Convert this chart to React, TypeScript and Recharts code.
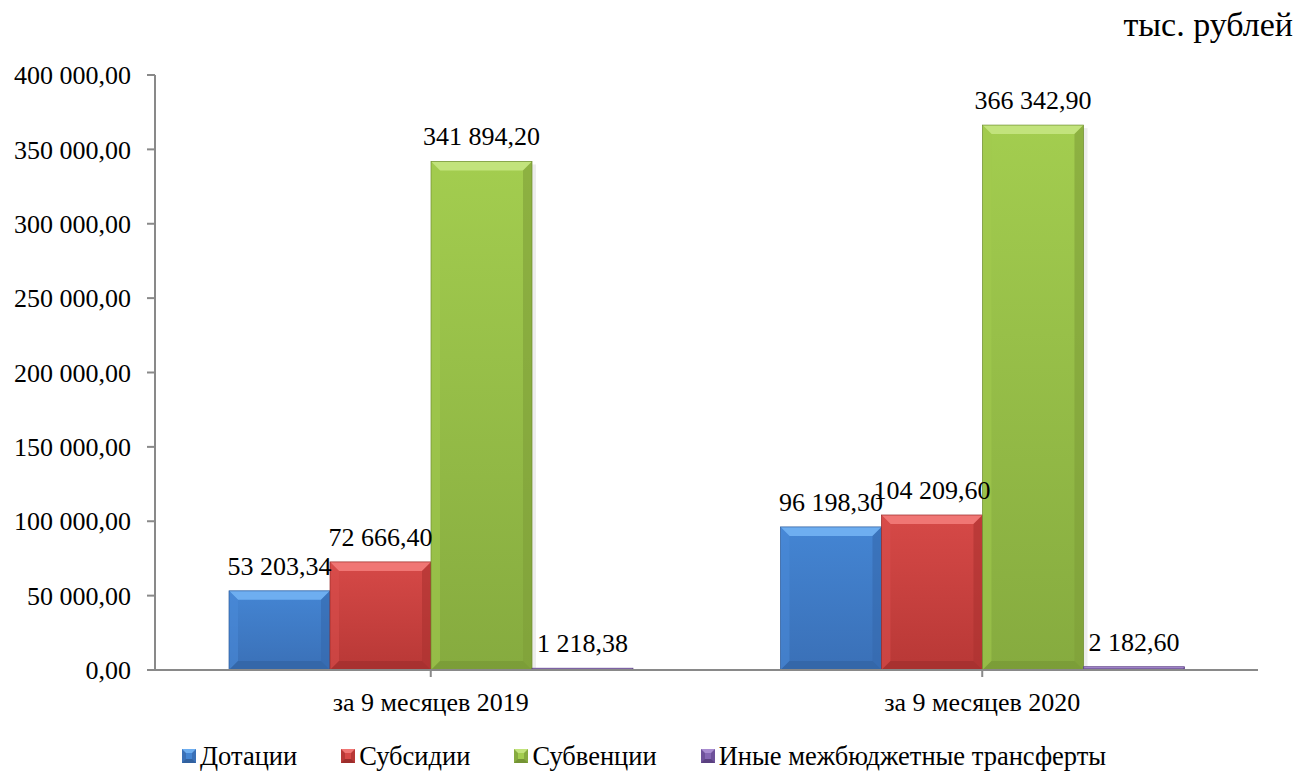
import React from "react";
import { Bar, BarChart, LabelList, Legend, XAxis, YAxis } from "recharts";

const categories = ["за 9 месяцев 2019", "за 9 месяцев 2020"];
const dotacii = [53203.34, 96198.3];
const subsidii = [72666.4, 104209.6];
const subvencii = [341894.2, 366342.9];
const inye = [1218.38, 2182.6];
const yTicks = [0, 50000, 100000, 150000, 200000, 250000, 300000, 350000, 400000];
const seriesNames = ["Дотации", "Субсидии", "Субвенции", "Иные межбюджетные трансферты"];

const data = categories.map((name, i) => ({
  name,
  dot: dotacii[i],
  sub: subsidii[i],
  sbv: subvencii[i],
  other: inye[i],
}));

type Pal = {
  id: string;
  base: string;
  top: string;
  left: string;
  body1: string;
  body2: string;
  right: string;
  bottom: string;
  stroke: string;
};

const blue: Pal = {
  id: "blue", base: "#4180CE", top: "#6EAEF0", left: "#4A8BD9", body1: "#4485D3",
  body2: "#3A70B7", right: "#3669AD", bottom: "#31619F", stroke: "#2E5C9A",
};
const red: Pal = {
  id: "red", base: "#CC4240", top: "#F07674", left: "#D84F4D", body1: "#D64947",
  body2: "#B83836", right: "#AB3230", bottom: "#9C2D2B", stroke: "#992B29",
};
const green: Pal = {
  id: "green", base: "#8DB242", top: "#C2E37C", left: "#A2CB4E", body1: "#A3CD4F",
  body2: "#86AB3F", right: "#7E9F39", bottom: "#749434", stroke: "#6F8E32",
};
const purple: Pal = {
  id: "purple", base: "#7B5EA8", top: "#A88CD0", left: "#8A6CB8", body1: "#8567B3",
  body2: "#6E519A", right: "#654A8E", bottom: "#5A4080", stroke: "#5C4283",
};

const fmt = (v: number) => {
  const [int, dec] = Math.abs(v).toFixed(2).split(".");
  return int.replace(/\B(?=(\d{3})+(?!\d))/g, " ") + "," + dec;
};

const FONT = '"Liberation Serif", "Times New Roman", serif';

function BevelBar(props: any) {
  const { x, y, width, height, pal, index } = props;
  if (width == null || height == null || height <= 0) return null;
  const w = width;
  const h = height;
  const b = Math.min(9, w / 4, h / 2);
  const gid = `g-${pal.id}-${index}`;
  return (
    <g>
      <defs>
        <linearGradient id={gid} x1="0" y1="0" x2="0" y2="1">
          <stop offset="0%" stopColor={pal.body1} />
          <stop offset="100%" stopColor={pal.body2} />
        </linearGradient>
      </defs>
      <rect x={x + 2} y={y + 3} width={w + 2} height={h - 3} fill="#000" opacity={0.07} />
      <rect x={x} y={y} width={w} height={h} fill={`url(#${gid})`} />
      <polygon points={`${x},${y} ${x + w},${y} ${x + w - b},${y + b} ${x + b},${y + b}`} fill={pal.top} />
      <polygon points={`${x},${y} ${x + b},${y + b} ${x + b},${y + h - b} ${x},${y + h}`} fill={pal.left} opacity={0.55} />
      <polygon points={`${x + w},${y} ${x + w - b},${y + b} ${x + w - b},${y + h - b} ${x + w},${y + h}`} fill={pal.right} opacity={0.6} />
      <polygon points={`${x},${y + h} ${x + w},${y + h} ${x + w - b},${y + h - b} ${x + b},${y + h - b}`} fill={pal.bottom} opacity={0.6} />
      <rect x={x} y={y} width={w} height={h} fill="none" stroke={pal.stroke} strokeWidth={0.7} />
    </g>
  );
}

const pals = [blue, red, green, purple];

function LegendIcon({ pal }: { pal: Pal }) {
  return (
    <svg width={14} height={14} style={{ display: "block" }}>
      <rect x={0} y={0} width={14} height={14} fill={pal.body2} />
      <polygon points="0,0 14,0 10,4 4,4" fill={pal.top} />
      <polygon points="0,14 14,14 10,10 4,10" fill={pal.bottom} />
      <rect x={4} y={4} width={6} height={6} fill={pal.body1} />
    </svg>
  );
}

function renderLegend() {
  return (
    <div style={{ display: "flex", alignItems: "center", paddingLeft: 182, height: 30 }}>
      {seriesNames.map((name, i) => (
        <div key={name} style={{ display: "flex", alignItems: "center", marginRight: 44 }}>
          <LegendIcon pal={pals[i]} />
          <span style={{ marginLeft: 4, fontSize: 26.5, fontFamily: FONT, color: "#000" }}>{name}</span>
        </div>
      ))}
    </div>
  );
}

export default function App() {
  const keys = ["dot", "sub", "sbv", "other"];
  return (
    <div style={{ position: "absolute", left: 0, top: 0, width: 1298, height: 772, background: "#fff" }}>
      <div
        style={{
          position: "absolute",
          right: 5,
          top: 6,
          fontSize: 34,
          fontFamily: FONT,
          color: "#000",
        }}
      >
        тыс. рублей
      </div>
      <BarChart
        width={1298}
        height={772}
        data={data}
        margin={{ top: 75, right: 40, left: 0, bottom: 1 }}
        barCategoryGap={74}
        barGap={0}
      >
        <XAxis
          dataKey="name"
          height={71}
          tick={{ fontSize: 26, fill: "#000", fontFamily: FONT }}
          tickSize={7}
          tickMargin={16}
          axisLine={{ stroke: "#898989", strokeWidth: 2 }}
          tickLine={{ stroke: "#898989", strokeWidth: 2 }}
          interval={0}
        />
        <YAxis
          width={155}
          domain={[0, 400000]}
          ticks={yTicks}
          tickFormatter={fmt}
          tick={{ fontSize: 26, fill: "#000", fontFamily: FONT }}
          tickSize={8}
          tickMargin={16}
          axisLine={{ stroke: "#898989", strokeWidth: 2 }}
          tickLine={{ stroke: "#898989", strokeWidth: 2 }}
          allowDataOverflow
        />
        <Legend verticalAlign="bottom" height={30} wrapperStyle={{ left: 0, width: 1298 }} content={renderLegend} />
        {keys.map((k, i) => (
          <Bar
            key={k}
            dataKey={k}
            name={seriesNames[i]}
            fill={pals[i].base}
            isAnimationActive={false}
            shape={(p: any) => <BevelBar {...p} pal={pals[i]} />}
          >
            <LabelList
              dataKey={k}
              position="top"
              offset={16}
              formatter={(v: any) => fmt(Number(v))}
              style={{ fontSize: 26, fill: "#000", fontFamily: FONT }}
            />
          </Bar>
        ))}
      </BarChart>
    </div>
  );
}
